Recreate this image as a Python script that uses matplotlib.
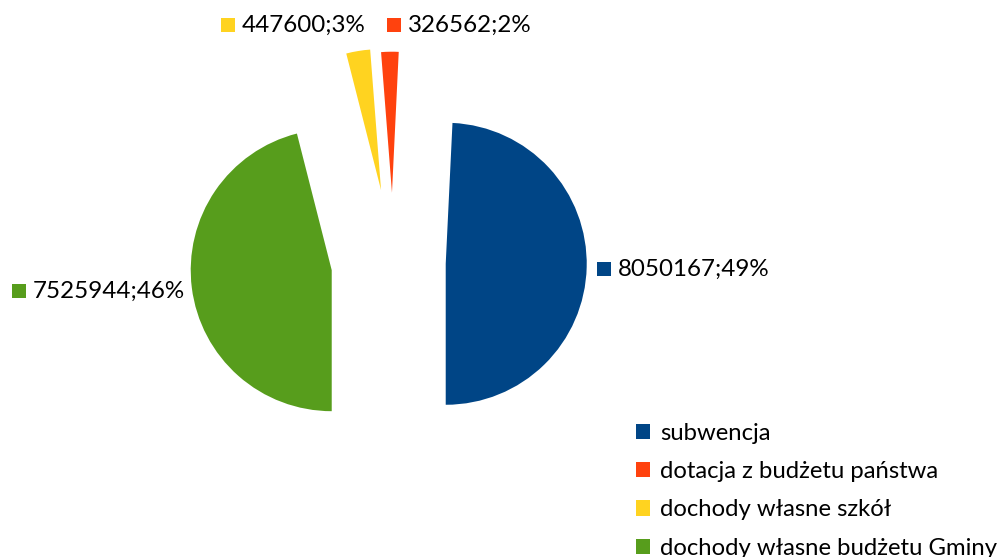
import matplotlib
matplotlib.use("Agg")
import matplotlib.pyplot as plt

# ---- data ----
categories = ["subwencja", "dotacja z budżetu państwa", "dochody własne szkół",
              "dochody własne budżetu Gminy"]
values = [8050167, 326562, 447600, 7525944]
percent_labels = ["49%", "2%", "3%", "46%"]
colors = ["#004586", "#FF420E", "#FFD320", "#579D1C"]

plt.rcParams['font.family'] = ['Lato', 'DejaVu Sans']

W, H = 1000, 557
R = 141.0  # pie radius in pixels -> 1 data unit

fig = plt.figure(figsize=(W / 100, H / 100), dpi=100)
ax = fig.add_axes([0, 0, 1, 1])


def d(x, y):
    """pixel (from top-left) -> data coords (radius units)"""
    return x / R, (H - y) / R


explode = [0.374, 0.495, 0.52, 0.438]
wedges, _ = ax.pie(values, colors=colors, startangle=-90, counterclock=True,
                   explode=explode, radius=1.0, center=d(393, 262.5),
                   wedgeprops=dict(linewidth=0))
ax.set_xlim(0, W / R)
ax.set_ylim(0, H / R)
ax.set_aspect('equal')
ax.axis('off')

# data labels (square key + value;percent)
label_pos = [(604, 269), (393.5, 25), (227.5, 25), (18.5, 291)]
for i, (px, py) in enumerate(label_pos):
    ax.plot(*d(px, py), marker='s', markersize=10.5, color=colors[i],
            markeredgewidth=0, linestyle='none')
    ax.text(*d(px + 14, py), f"{values[i]};{percent_labels[i]}",
            fontsize=17.4, va='center', ha='left', color='#000000')

leg = ax.legend(wedges, categories, loc='upper left',
                bbox_to_anchor=(636 / W, 1 - 423 / H),
                bbox_transform=fig.transFigure, frameon=False,
                fontsize=17.2, handlelength=0.6, handleheight=0.6,
                handletextpad=0.42, labelspacing=0.72, borderpad=0,
                borderaxespad=0)
for t in leg.get_texts():
    t.set_color('#000000')

fig.savefig("out.png", dpi=100)
